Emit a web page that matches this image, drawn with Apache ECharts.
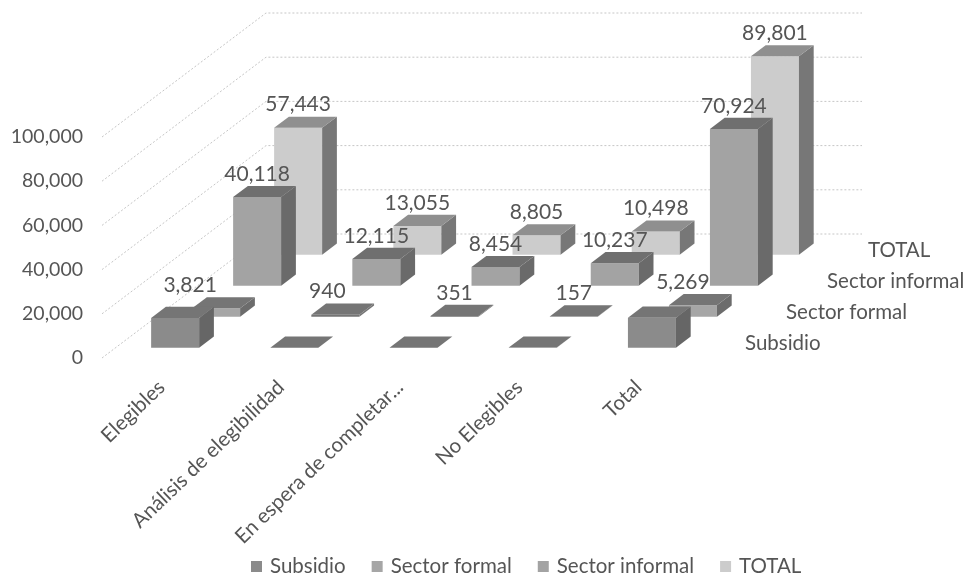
<!DOCTYPE html>
<html>
<head>
<meta charset="utf-8">
<title>Chart</title>
<script src="https://cdn.jsdelivr.net/npm/echarts@6/dist/echarts.min.js"></script>
<style>
html,body{margin:0;padding:0;background:#fff}
#main{width:968px;height:573px}
</style>
</head>
<body>
<div id="main"></div>
<script>
let categories = ["Elegibles","Análisis de elegibilidad","En espera de completar...","No Elegibles","Total"];
let rowNames = ["Subsidio","Sector formal","Sector informal","TOTAL"];
let subsidio = [13504,0,0,104,13608];
let sectorFormal = [3821,940,351,157,5269];
let sectorInformal = [40118,12115,8454,10237,70924];
let total = [57443,13055,8805,10498,89801];
let yTicks = [0,20000,40000,60000,80000,100000];

let rowValues = [subsidio,sectorFormal,sectorInformal,total];

// oblique projection of the 3d chart: one row deep moves this much on screen
let depthX = 41;
let depthY = 31;
let barWidth = 48;
let barStart = 0.33;
let barDepth = 0.36;

let textColor = "#555";
let fontFamily = "Lato";

let faceColors = [
	{front:"#8b8b8b",top:"#757575",side:"#666666"},
	{front:"#a6a6a6",top:"#757575",side:"#6c6c6c"},
	{front:"#a3a3a3",top:"#6f6f6f",side:"#6a6a6a"},
	{front:"#cccccc",top:"#8f8f8f",side:"#777777"}
];
// excel labels that were moved by hand in the original
let formalLabelShift = [-26,-8,0,0,-10];

function renderWall(params, api) {
	let sys = params.coordSys;
	let y = api.coord([0, api.value(0)])[1];
	let backX = sys.x + depthX * 4;
	let backY = y - depthY * 4;
	return {
		type:"polyline",
		shape:{points:[[sys.x,y],[backX,backY],[backX + sys.width,backY]]},
		style:{fill:null,stroke:"#c6c6c6",lineWidth:1,lineDash:[2,2]},
		silent:true
	};
}

function makeRenderBar(row) {
	return function(params, api) {
		let cat = api.value(0);
		let value = api.value(1);
		let top = api.coord([cat,value]);
		let zero = api.coord([cat,0]);
		let x0 = zero[0] - barWidth / 2 + depthX * (row + barStart);
		let y0 = zero[1] - depthY * (row + barStart);
		let h = zero[1] - top[1];
		let dx = depthX * barDepth;
		let dy = depthY * barDepth;
		let c = faceColors[row];
		// very thin bars read as one flat dark plate
		let front = h < 3 ? c.top : c.front;
		let side = h < 3 ? c.top : c.side;
		let children = [
			{type:"polygon",shape:{points:[[x0,y0],[x0 + barWidth,y0],[x0 + barWidth,y0 - h],[x0,y0 - h]]},style:{fill:front}},
			{type:"polygon",shape:{points:[[x0 + barWidth,y0],[x0 + barWidth + dx,y0 - dy],[x0 + barWidth + dx,y0 - h - dy],[x0 + barWidth,y0 - h]]},style:{fill:side}},
			{type:"polygon",shape:{points:[[x0,y0 - h],[x0 + barWidth,y0 - h],[x0 + barWidth + dx,y0 - h - dy],[x0 + dx,y0 - h - dy]]},style:{fill:c.top}}
		];
		// the subsidio row has no value labels in the original
		if (row > 0) {
			let shift = row == 1 ? formalLabelShift[cat] : 0;
			children.push({
				type:"text",
				style:{
					x:x0 + barWidth / 2 + shift,
					y:y0 - h - dy - 12,
					text:value.toLocaleString("en-US"),
					textAlign:"center",
					textVerticalAlign:"middle",
					fill:textColor,
					font:"21px " + fontFamily
				}
			});
		}
		// depth axis name, at the end of the row
		if (cat == categories.length - 1) {
			let sys = params.coordSys;
			children.push({
				type:"text",
				style:{
					x:sys.x + sys.width + 47 + depthX * row,
					y:zero[1] - 15 - depthY * row,
					text:rowNames[row],
					textAlign:"left",
					textVerticalAlign:"middle",
					fill:textColor,
					font:"20.5px " + fontFamily
				}
			});
		}
		return {type:"group",children:children};
	};
}

let series = [{
	name:"walls",
	type:"custom",
	z:1,
	silent:true,
	renderItem:renderWall,
	data:yTicks.map(function(v){return [v];}),
	encode:{y:0}
}];
rowNames.forEach(function(name,row){
	series.push({
		name:name,
		type:"custom",
		z:5 - row + 1,
		renderItem:makeRenderBar(row),
		itemStyle:{color:faceColors[row].front},
		data:rowValues[row].map(function(v,i){return [i,v];}),
		encode:{x:0,y:1}
	});
});

let myEchart = echarts.init(document.getElementById("main"));
let opt = {
	animation:false,
	backgroundColor:"#ffffff",
	textStyle:{fontFamily:fontFamily},
	legend:{
		data:rowNames,
		left:246,
		top:551,
		icon:"rect",
		itemWidth:11,
		itemHeight:11,
		itemGap:26,
		textStyle:{color:textColor,fontSize:20.5,fontFamily:fontFamily,padding:[0,0,0,3]}
	},
	grid:{left:102,top:137,width:596,height:221},
	xAxis:{
		type:"category",
		data:categories,
		axisLine:{show:false},
		axisTick:{show:false},
		axisLabel:{
			interval:0,
			rotate:44,
			margin:26,
			color:textColor,
			fontSize:20.5,
			fontFamily:fontFamily
		}
	},
	yAxis:{
		type:"value",
		min:0,
		max:100000,
		interval:20000,
		axisLine:{show:false},
		axisTick:{show:false},
		splitLine:{show:false},
		axisLabel:{
			margin:19,
			color:textColor,
			fontSize:19.5,
			fontFamily:fontFamily,
			formatter:function(v){return v.toLocaleString("en-US");}
		}
	},
	series:series
};
myEchart.setOption(opt);
</script>
</body>
</html>
